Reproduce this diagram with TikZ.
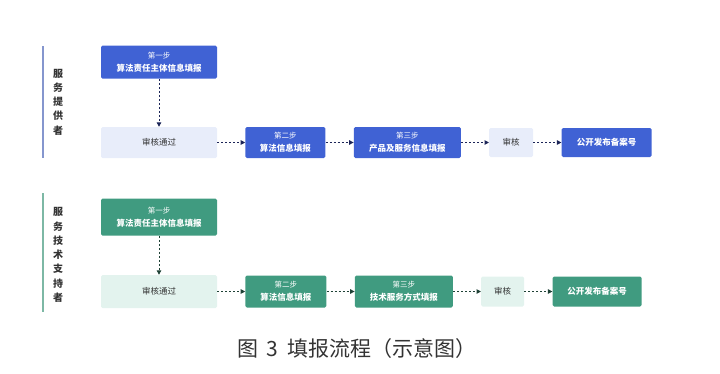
\documentclass[tikz,border=0pt]{standalone}
\usepackage{fontspec}
\setmainfont{Noto Sans CJK SC}
\usetikzlibrary{arrows.meta, positioning}
\definecolor{stepblue}{HTML}{4062D4}
\definecolor{paleblue}{HTML}{E8EDFA}
\definecolor{stepgreen}{HTML}{409B80}
\definecolor{palegreen}{HTML}{E3F3EE}
\definecolor{navyarrow}{HTML}{1C2558}
\definecolor{greenarrow}{HTML}{1F4236}
\definecolor{bluerule}{HTML}{8596CE}
\definecolor{greenrule}{HTML}{7DB8A5}
\definecolor{darktext}{HTML}{333333}

\begin{document}
\begin{tikzpicture}[
    x=1pt, y=-1pt, >={Triangle[length=4.5pt, width=4.5pt]}, node distance=28pt,
    every node/.style={inner sep=0pt, align=center, rounded corners=1.5pt},
    blue_step/.style={fill=stepblue, text=white, font=\fontsize{8.5}{13}\selectfont\bfseries},
    blue_pale/.style={fill=paleblue, text=darktext, font=\fontsize{8.5}{13}\selectfont},
    green_step/.style={fill=stepgreen, text=white, font=\fontsize{8.5}{13}\selectfont\bfseries},
    green_pale/.style={fill=palegreen, text=darktext, font=\fontsize{8.5}{13}\selectfont},
    side_label/.style={text=darktext, font=\fontsize{10}{14.3}\selectfont\bfseries},
    blue_flow/.style={->, draw=navyarrow, line width=1pt, dash pattern=on 2pt off 2pt},
    green_flow/.style={->, draw=greenarrow, line width=1pt, dash pattern=on 2pt off 2pt}
]
\useasboundingbox (0,0) rectangle (720,373);

% service provider
\node (pass_provider) [blue_pale, minimum width=116pt, minimum height=31pt] at (159,142.5) {审核通过};
\node (step_one_provider) [blue_step, minimum width=116pt, minimum height=33pt, above=48pt of pass_provider] {{\fontsize{7.5}{13}\selectfont\mdseries 第一步}\\算法责任主体信息填报};
\node (step_two_provider) [blue_step, minimum width=80pt, minimum height=31pt, right=of pass_provider] {{\fontsize{7.5}{13}\selectfont\mdseries 第二步}\\算法信息填报};
\node (step_three_provider) [blue_step, minimum width=107pt, minimum height=31pt, right=of step_two_provider] {{\fontsize{7.5}{13}\selectfont\mdseries 第三步}\\产品及服务信息填报};
\node (review_provider) [blue_pale, minimum width=44pt, minimum height=29pt, right=of step_three_provider] {审核};
\node (publish_provider) [blue_step, minimum width=90pt, minimum height=29pt, right=of review_provider] {公开发布备案号};
\node (label_provider) [side_label] at (58,102) {服\\务\\提\\供\\者};
\draw[bluerule, line width=1.5pt] (43,46) -- (43,158);

\draw[blue_flow] (step_one_provider) -- (pass_provider);
\draw[blue_flow] (pass_provider) -- (step_two_provider);
\draw[blue_flow] (step_two_provider) -- (step_three_provider);
\draw[blue_flow] (step_three_provider) -- (review_provider);
\draw[blue_flow] (review_provider) -- (publish_provider);

% technical support
\node (pass_support) [green_pale, minimum width=116pt, minimum height=33pt] at (159,291.5) {审核通过};
\node (step_one_support) [green_step, minimum width=116pt, minimum height=37pt, above=39pt of pass_support] {{\fontsize{7.5}{13}\selectfont\mdseries 第一步}\\算法责任主体信息填报};
\node (step_two_support) [green_step, minimum width=81pt, minimum height=32pt, right=of pass_support] {{\fontsize{7.5}{13}\selectfont\mdseries 第二步}\\算法信息填报};
\node (step_three_support) [green_step, minimum width=98pt, minimum height=32pt, right=of step_two_support] {{\fontsize{7.5}{13}\selectfont\mdseries 第三步}\\技术服务方式填报};
\node (review_support) [green_pale, minimum width=43pt, minimum height=30pt, right=of step_three_support] {审核};
\node (publish_support) [green_step, minimum width=89pt, minimum height=30pt, right=of review_support] {公开发布备案号};
\node (label_support) [side_label] at (58,255) {服\\务\\技\\术\\支\\持\\者};
\draw[greenrule, line width=1.5pt] (43,193) -- (43,312);

\draw[green_flow] (step_one_support) -- (pass_support);
\draw[green_flow] (pass_support) -- (step_two_support);
\draw[green_flow] (step_two_support) -- (step_three_support);
\draw[green_flow] (step_three_support) -- (review_support);
\draw[green_flow] (review_support) -- (publish_support);

\node (caption) [text=darktext, font=\fontsize{21}{24}\selectfont] at (357,349) {图\hspace{8pt}3\hspace{10pt}填报流程（示意图）};
\end{tikzpicture}
\end{document}
